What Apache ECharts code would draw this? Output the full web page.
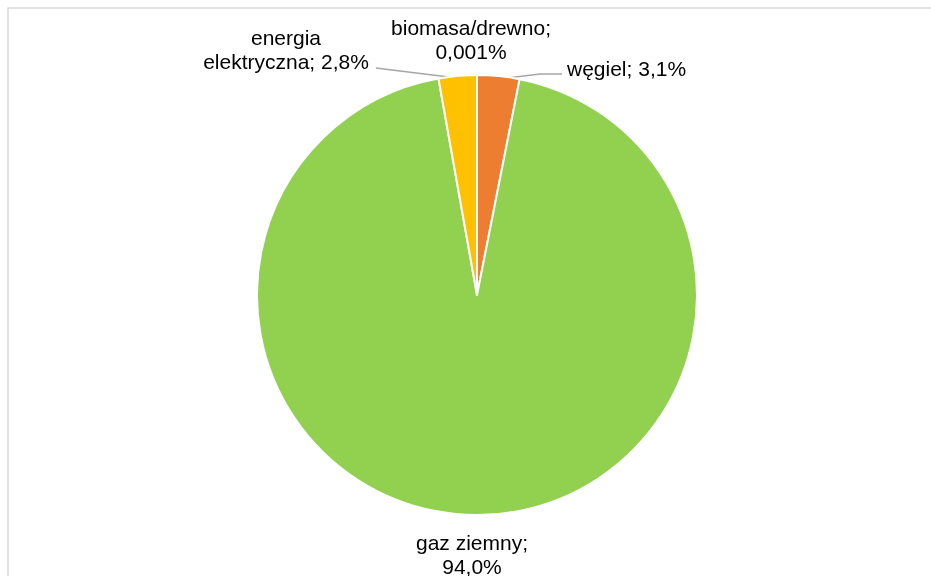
<!DOCTYPE html>
<html>
<head>
<meta charset="utf-8">
<script src="https://cdn.jsdelivr.net/npm/echarts@6/dist/echarts.min.js"></script>
<style>
  html, body { margin: 0; padding: 0; background: #fff; }
  #chart { width: 931px; height: 576px; }
</style>
</head>
<body>
<div id="chart"></div>
<script>
// kolejność zgodnie z ruchem wskazówek zegara od godz. 12
const categories = ['węgiel', 'gaz ziemny', 'energia elektryczna', 'biomasa/drewno'];
const shares = [3.1, 94.0, 2.8, 0.001];
const colors = ['#ED7D31', '#92D050', '#FFC000', '#A5A5A5'];

// label placement (px in the chart)
const labelSpots = [
  { x: 567, y: 70, align: 'left', line: [[499, 79], [540, 74], [562, 74]] },
  { x: 472, y: 556, align: 'center' },
  { x: 286, y: 51, align: 'center', line: [[457, 78], [400, 71], [376, 68]] },
  { x: 471, y: 41, align: 'center' },
];
const labelTexts = [
  'węgiel; {v}',
  'gaz ziemny;\n{v}',
  'energia\nelektryczna; {v}',
  'biomasa/drewno;\n{v}',
];

const fmt = (v) => (v < 0.01 ? v.toFixed(3) : v.toFixed(1)).replace('.', ',') + '%';

const myChart = echarts.init(document.getElementById('chart'));
myChart.setOption({
  animation: false,
  textStyle: { fontFamily: 'Liberation Sans, Arial, sans-serif' },
  graphic: [{
    type: 'rect',
    shape: { x: 8, y: 8, width: 1200, height: 1200 },
    style: { fill: 'none', stroke: '#D9D9D9', lineWidth: 1.5 },
    silent: true,
  }],
  series: [{
    type: 'pie',
    center: [477, 295],
    radius: 220,
    startAngle: 90,
    clockwise: true,
    avoidLabelOverlap: false,
    itemStyle: { borderColor: '#fff', borderWidth: 2 },
    label: {
      show: true,
      color: '#000',
      fontSize: 21,
      lineHeight: 24,
      formatter: (p) => labelTexts[p.dataIndex].replace('{v}', fmt(p.value)),
    },
    labelLine: { show: true, lineStyle: { color: '#A6A6A6', width: 1.5 } },
    labelLayout: (p) => {
      const s = labelSpots[p.dataIndex];
      const out = { x: s.x, y: s.y, align: s.align, verticalAlign: 'middle' };
      if (s.line) out.labelLinePoints = s.line;
      return out;
    },
    data: categories.map((name, i) => ({
      name,
      value: shares[i],
      itemStyle: { color: colors[i] },
      labelLine: { show: !!labelSpots[i].line },
    })),
  }],
});
</script>
</body>
</html>
